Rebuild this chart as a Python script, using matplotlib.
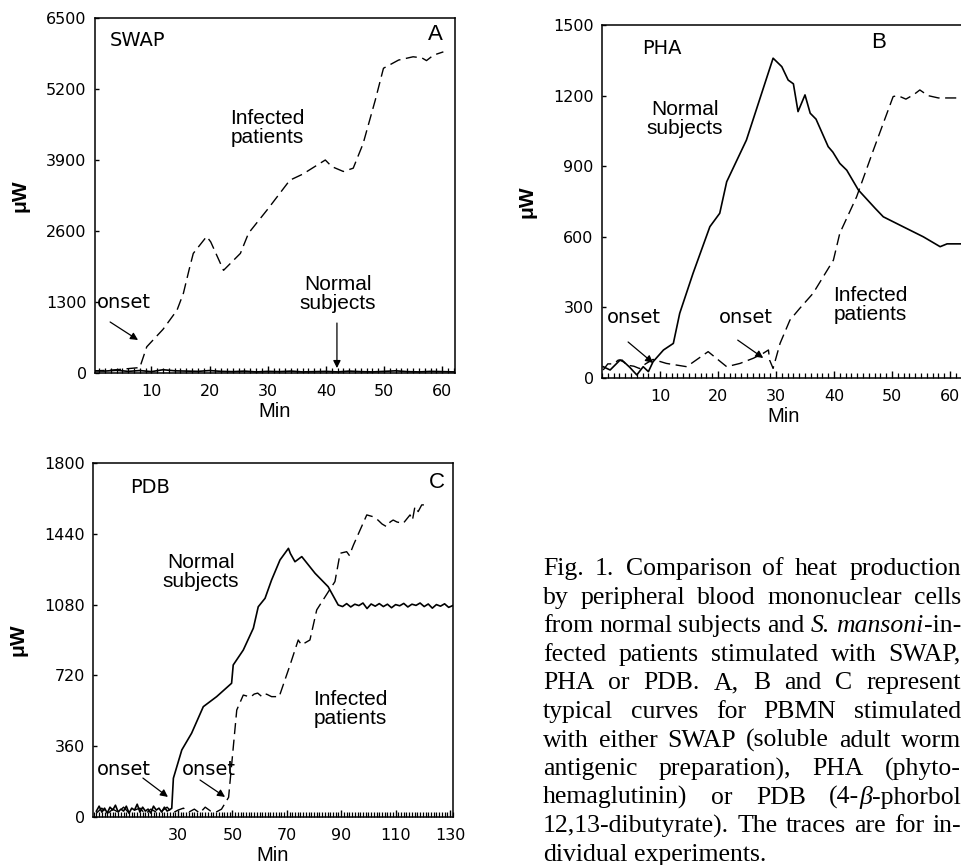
import matplotlib
matplotlib.use('Agg')
import matplotlib.pyplot as plt
from matplotlib.ticker import MultipleLocator

# ---- panel A : SWAP ----
a_inf_t = [0, 3, 6, 8, 9.2, 12, 14.4, 15.5, 16.5, 17.2, 19.5, 20.2, 22.4, 25.3, 26.7, 30,
           33.8, 36, 39.9, 41, 43, 44.7, 46.4, 48.5, 49.9, 52.5, 55, 56.5, 57.3, 58.5, 60.2]
a_inf_v = [40, 50, 80, 100, 480, 800, 1150, 1460, 1900, 2190, 2500, 2400, 1880, 2190, 2560, 3000,
           3530, 3640, 3900, 3780, 3690, 3750, 4200, 5000, 5580, 5730, 5790, 5770, 5720, 5820, 5880]
a_norm_t = [0, 2, 4, 6, 8, 10, 12, 14, 16, 18, 20, 22, 24, 26, 28, 30, 32, 34, 36, 38, 40,
            42, 44, 46, 48, 50, 52, 54, 56, 58, 60, 62]
a_norm_v = [40, 35, 50, 30, 45, 25, 60, 40, 35, 30, 45, 30, 25, 35, 20, 30, 25, 35, 20, 25, 30,
            20, 35, 25, 20, 30, 40, 25, 20, 30, 25, 20]
a_yticks = [0, 1300, 2600, 3900, 5200, 6500]
a_xticks = [10, 20, 30, 40, 50, 60]

# ---- panel B : PHA ----
b_norm_t = [0.2, 1.4, 3.1, 3.8, 4.8, 6.0, 7.1, 8.0, 8.8, 10.6, 12.3, 13.4, 15.7, 18.6, 20.3, 21.5,
            24.9, 29.5, 31.0, 32.1, 33.0, 33.8, 35.0, 35.9, 36.9, 39.0, 39.8, 41.0, 42.2, 44.2,
            47.1, 48.5, 51.9, 55.4, 58.3, 59.5, 62.8]
b_norm_v = [48, 34, 76, 68, 45, 13, 48, 27, 69, 119, 147, 275, 445, 643, 700, 834,
            1011, 1359, 1323, 1266, 1250, 1132, 1203, 1125, 1100, 983, 960, 912, 883, 799,
            721, 685, 643, 600, 558, 570, 570]
b_inf_t = [0.2, 1.0, 2.0, 2.8, 3.5, 4.2, 5.5, 6.5, 7.5, 8.8, 11.1, 14.6, 18.3, 21.5, 23.8, 26.1,
           27.8, 28.7, 28.9, 29.5, 30.7, 32.4, 34.1, 36.4, 39.9, 41.0, 43.9, 46.8, 50.2, 51.0,
           52.4, 53.8, 54.8, 56.2, 58, 60.5, 62.8]
b_inf_v = [34, 60, 60, 76, 76, 55, 50, 40, 60, 79, 62, 48, 112, 48, 62, 84,
           105, 119, 76, 41, 147, 246, 296, 360, 501, 615, 770, 969, 1196, 1200,
           1185, 1205, 1224, 1200, 1190, 1190, 1190]
b_yticks = [0, 300, 600, 900, 1200, 1500]
b_xticks = [10, 20, 30, 40, 50, 60]

# ---- panel C : PDB ----
c_norm_t = [0, 1, 2, 3, 4, 5, 6, 7, 8, 9, 10, 11, 12, 13, 14, 15, 16, 17, 18, 19, 20, 21, 22, 23,
            24, 25, 26, 27.7, 28.3, 31.4, 35.0, 39.3, 44.2, 49.7, 50.3, 54.0, 57.7, 59.5, 62.0,
            64.4, 67.5, 70.6, 71.3, 73.0, 75.5, 80.4, 85.2, 88.9, 90.5, 92, 93.5, 95, 96.5, 98,
            99.5, 101, 102.5, 104, 105.5, 107, 108.5, 110, 111.5, 113, 114.5, 116, 117.5, 119,
            120.5, 122, 123.5, 125, 126.5, 128, 129.5, 131]
c_norm_v = [30, 55, 25, 45, 20, 50, 35, 60, 25, 40, 30, 55, 20, 45, 35, 65, 25, 50, 30, 40, 20, 55,
            35, 45, 25, 50, 30, 44, 197, 341, 426, 561, 612, 680, 773, 849, 960, 1069, 1112,
            1205, 1307, 1366, 1340, 1298, 1324, 1239, 1171, 1078, 1070, 1085, 1068, 1082, 1075,
            1088, 1060, 1083, 1072, 1085, 1070, 1082, 1064, 1080, 1074, 1086, 1068, 1082, 1076,
            1088, 1070, 1083, 1062, 1080, 1072, 1084, 1066, 1075]
c_inf_t = [0, 2, 4, 6, 8, 10, 12, 14, 16, 18, 20, 22, 24, 26, 28, 30, 32, 34, 36, 38, 40, 42, 44,
           46, 48.6, 51.6, 54.0, 56.7, 58, 59.3, 61, 62.5, 64.4, 67.2, 71.2, 74.2, 75.4, 78.5,
           81.0, 85.3, 87.7, 89.6, 92.0, 93, 94.5, 99.4, 101.7, 103.5, 105, 106.7, 108, 109.1,
           110.5, 112.8, 115.3, 116.2, 117.1, 118.3, 119.6, 122]
c_inf_v = [20, 45, 15, 40, 25, 50, 20, 35, 45, 15, 40, 25, 30, 50, 20, 35, 45, 25, 40, 20, 50, 30,
           25, 40, 100, 544, 620, 610, 625, 630, 610, 625, 612, 612, 773, 900, 875, 900,
           1053, 1146, 1197, 1341, 1349, 1330, 1383, 1536, 1527, 1510, 1490, 1476, 1500, 1510,
           1500, 1493, 1536, 1510, 1578, 1553, 1587, 1587]
c_yticks = [0, 360, 720, 1080, 1440, 1800]
c_xticks = [30, 50, 70, 90, 110, 130]

caption = [
    "Fig. 1. Comparison of heat production",
    "by peripheral blood mononuclear cells",
    "from normal subjects and *S.* *mansoni*-in-",
    "fected patients stimulated with SWAP,",
    "PHA or PDB. A, B and C represent",
    "typical curves for PBMN stimulated",
    "with either SWAP (soluble adult worm",
    "antigenic preparation), PHA (phyto-",
    "hemaglutinin) or PDB (4-*\u03b2*-phorbol",
    "12,13-dibutyrate). The traces are for in-",
    "dividual experiments.",
]

W, H = 962, 865
fig = plt.figure(figsize=(W / 100, H / 100), dpi=100)

SANS = 'Liberation Sans'
ROUND = 'DejaVu Sans'
DASH = (8, 4)
LAB = 15      # "Normal subjects" / "Infected patients"
SMALL = 14    # SWAP, onset ...


def px_axes(l, t, r, b):
    return fig.add_axes([l / W, 1 - b / H, (r - l) / W, (b - t) / H])


def style(ax, xlim, ylim, xt, yt):
    ax.set_xlim(*xlim)
    ax.set_ylim(*ylim)
    ax.set_xticks(xt)
    ax.set_yticks(yt)
    ax.xaxis.set_minor_locator(MultipleLocator(1))
    ax.tick_params(axis='x', which='major', direction='in', length=5, width=1, pad=8,
                   labelsize=11.5)
    ax.tick_params(axis='x', which='minor', direction='in', length=3.5, width=0.9)
    ax.tick_params(axis='y', which='major', direction='in', length=3, width=1, pad=6,
                   labelsize=11.5)
    for lab in ax.get_xticklabels() + ax.get_yticklabels():
        lab.set_family(ROUND)
    for s in ax.spines.values():
        s.set_linewidth(1.1)
    ax.set_xlabel('Min', fontsize=14.5, family=SANS, labelpad=2)
    ax.set_ylabel('\u03bcW', fontsize=15, family=SANS, fontweight='bold', labelpad=12)


arrow = dict(arrowstyle='-|>', lw=0.9, color='black', mutation_scale=11, shrinkA=0, shrinkB=0)

# panel A
axA = px_axes(95, 18, 455, 373)
axA.plot(a_norm_t, a_norm_v, color='black', lw=1.2)
axA.plot(a_inf_t, a_inf_v, color='black', lw=1.0, dashes=DASH)
style(axA, (0.3, 62.2), (0, 6500), a_xticks, a_yticks)
axA.text(2.9, 6097, 'SWAP', fontsize=SMALL, family=ROUND, va='center')
axA.text(58.9, 6189, 'A', fontsize=16, family=SANS, ha='center', va='center')
axA.text(30.0, 4486, 'Infected\npatients', fontsize=LAB, family=SANS, ha='center',
         va='center', linespacing=1.0)
axA.text(42.0, 1446, 'Normal\nsubjects', fontsize=LAB, family=SANS, ha='center',
         va='center', linespacing=1.0)
axA.text(0.6, 1300, 'onset', fontsize=SMALL, family=ROUND, va='center')
axA.annotate('', xy=(7.7, 604), xytext=(2.9, 934), arrowprops=arrow)
axA.annotate('', xy=(41.9, 90), xytext=(41.9, 915), arrowprops=arrow)

# panel B
axB = px_axes(602, 25, 966, 378)
axB.plot(b_norm_t, b_norm_v, color='black', lw=1.2)
axB.plot(b_inf_t, b_inf_v, color='black', lw=1.0, dashes=DASH)
style(axB, (0, 62.76), (0, 1500), b_xticks, b_yticks)
axB.text(6.9, 1402, 'PHA', fontsize=SMALL, family=ROUND, va='center')
axB.text(47.6, 1424, 'B', fontsize=16, family=SANS, ha='center', va='center')
axB.text(14.3, 1099, 'Normal\nsubjects', fontsize=LAB, family=SANS, ha='center',
         va='center', linespacing=1.0)
axB.text(46.2, 310, 'Infected\npatients', fontsize=LAB, family=SANS, ha='center',
         va='center', linespacing=1.0)
axB.text(0.9, 255, 'onset', fontsize=SMALL, family=ROUND, va='center')
axB.text(20.2, 255, 'onset', fontsize=SMALL, family=ROUND, va='center')
axB.annotate('', xy=(8.8, 64), xytext=(4.5, 153), arrowprops=arrow)
axB.annotate('', xy=(27.8, 85), xytext=(23.4, 161), arrowprops=arrow)

# panel C
axC = px_axes(93, 463, 453, 817)
axC.plot(c_norm_t, c_norm_v, color='black', lw=1.2)
axC.plot(c_inf_t, c_inf_v, color='black', lw=1.0, dashes=DASH)
style(axC, (-1.25, 131.1), (0, 1800), c_xticks, c_yticks)
axC.text(12.4, 1673, 'PDB', fontsize=SMALL, family=ROUND, va='center')
axC.text(125.2, 1703, 'C', fontsize=16, family=SANS, ha='center', va='center')
axC.text(38.5, 1248, 'Normal\nsubjects', fontsize=LAB, family=SANS, ha='center',
         va='center', linespacing=1.0)
axC.text(93.2, 549, 'Infected\npatients', fontsize=LAB, family=SANS, ha='center',
         va='center', linespacing=1.0)
axC.text(0.0, 239, 'onset', fontsize=SMALL, family=ROUND, va='center')
axC.text(31.3, 239, 'onset', fontsize=SMALL, family=ROUND, va='center')
axC.annotate('', xy=(26.3, 102), xytext=(17.1, 198), arrowprops=arrow)
axC.annotate('', xy=(47.3, 102), xytext=(38.1, 188), arrowprops=arrow)

# caption, justified word by word
renderer = fig.canvas.get_renderer()
cap_kw = dict(fontsize=18.5, family='Liberation Serif')


def seg_width(s, italic):
    t = fig.text(0, 0, s, style='italic' if italic else 'normal', **cap_kw)
    w = t.get_window_extent(renderer).width
    t.remove()
    return w


space_w = seg_width('a b', False) - seg_width('ab', False)
left, right = 543, 961
for k, line in enumerate(caption):
    base = 575 + 28.6 * k
    words = []
    for w in line.split(' '):
        parts = w.split('*')
        segs = [(p, i % 2 == 1) for i, p in enumerate(parts) if p]
        words.append([(s, it, seg_width(s, it)) for s, it in segs])
    widths = [sum(x[2] for x in wd) for wd in words]
    if k < len(caption) - 1 and len(words) > 1:
        gap = (right - left - sum(widths)) / (len(words) - 1)
    else:
        gap = space_w
    x = left
    for wd, ww in zip(words, widths):
        xx = x
        for s, it, sw in wd:
            fig.text(xx / W, 1 - base / H, s, style='italic' if it else 'normal',
                     va='baseline', ha='left', **cap_kw)
            xx += sw
        x += ww + gap

fig.savefig('out.png', dpi=100)
